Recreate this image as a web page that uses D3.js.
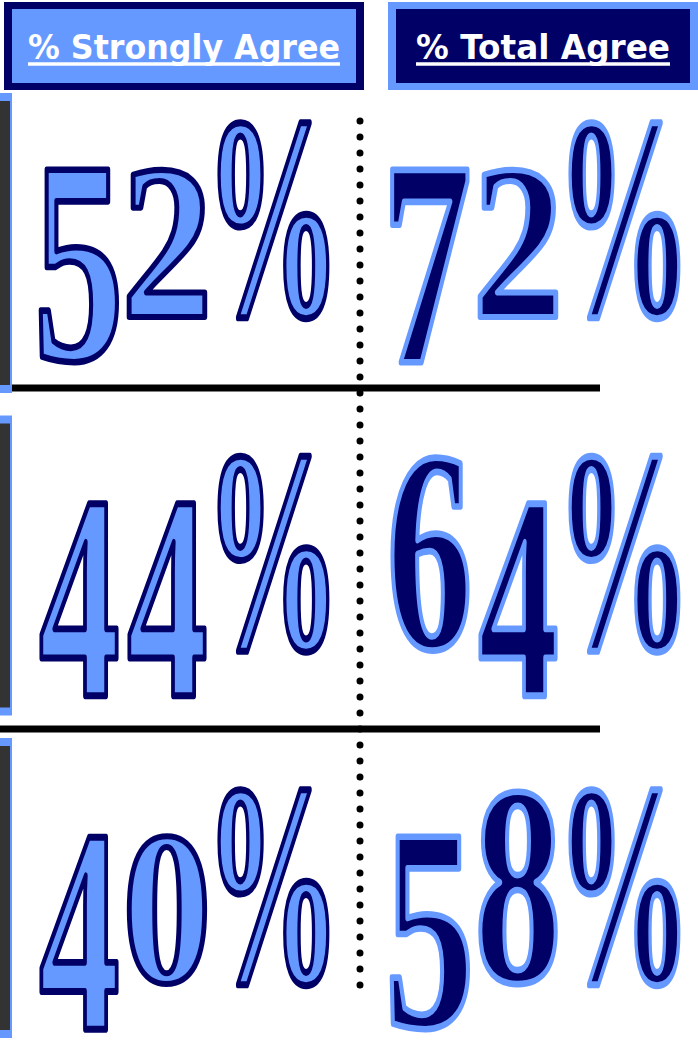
<!DOCTYPE html>
<html>
<head>
<meta charset="utf-8">
<script src="https://cdn.jsdelivr.net/npm/d3@7"></script>
<style>
  html, body { margin: 0; padding: 0; background: #fff; overflow: hidden; }
  svg { display: block; }
</style>
</head>
<body>
<div id="chart"></div>
<script>
// Agreement figures, two measures per statement
const columns = ["% Strongly Agree", "% Total Agree"];
const rows = ["Statement 1", "Statement 2", "Statement 3"];
const stronglyAgree = [52, 44, 40];
const totalAgree = [72, 64, 58];

{
    const width = 698, height = 1045;
    const navy = "#000066", light = "#6699FF";

    const svg = d3.select("#chart")
        .append("svg")
        .attr("width", width)
        .attr("height", height);

    // header boxes
    const headX = d3.scaleBand()
        .domain(columns)
        .range([4, 748])
        .paddingInner(24 / 384);

    // number columns and rows
    const numX = d3.scaleBand().domain(columns).range([9, 711]);
    const numY = d3.scaleBand().domain(rows).range([47, 1070]);
    const baseY = d3.scalePoint().domain(rows).range([320, 987]);
    const labelY = d3.scaleBand().domain(rows).range([93, 1038]).paddingInner(22.5 / 322.5);

    const colStyle = {
        [columns[0]]: { fill: light, stroke: navy },
        [columns[1]]: { fill: navy, stroke: light }
    };

    // dotted divider
    svg.append("line")
        .attr("x1", numX(columns[1]))
        .attr("x2", numX(columns[1]))
        .attr("y1", numY(rows[0]) + 74)
        .attr("y2", numY(rows[rows.length - 1]) + 257)
        .attr("stroke", "#000")
        .attr("stroke-width", 7)
        .attr("stroke-linecap", "round")
        .attr("stroke-dasharray", "0 16");

    // row separators
    svg.append("g")
        .selectAll("line")
        .data(rows.slice(0, -1))
        .join("line")
        .attr("x1", 0)
        .attr("x2", 600)
        .attr("y1", d => numY(d) + numY.step())
        .attr("y2", d => numY(d) + numY.step())
        .attr("stroke", "#000")
        .attr("stroke-width", 7);

    // headers
    const head = svg.append("g")
        .selectAll("g")
        .data(columns)
        .join("g");

    const boxW = d => Math.min(headX.bandwidth(), width - headX(d));
    const bw = 8;

    head.append("rect")
        .attr("x", d => headX(d))
        .attr("y", 2)
        .attr("width", boxW)
        .attr("height", 88)
        .attr("fill", d => colStyle[d].stroke);

    head.append("rect")
        .attr("x", d => headX(d) + bw)
        .attr("y", 2 + 7)
        .attr("width", d => boxW(d) - 2 * bw)
        .attr("height", 88 - 14)
        .attr("fill", d => colStyle[d].fill);

    // header text is squeezed a little to get the narrow look
    const headLen = t => Math.round(t.length * 19.5);

    head.append("text")
        .attr("x", d => headX(d) + boxW(d) / 2)
        .attr("y", 59)
        .attr("text-anchor", "middle")
        .attr("font-family", "'DejaVu Sans', sans-serif")
        .attr("font-weight", "bold")
        .attr("font-size", 34)
        .attr("fill", "#fff")
        .attr("textLength", d => headLen(d))
        .attr("lengthAdjust", "spacingAndGlyphs")
        .text(d => d);

    head.append("line")
        .attr("x1", d => headX(d) + boxW(d) / 2 - headLen(d) / 2)
        .attr("x2", d => headX(d) + boxW(d) / 2 + headLen(d) / 2)
        .attr("y1", 64)
        .attr("y2", 64)
        .attr("stroke", "#fff")
        .attr("stroke-width", 3.5);

    // big numbers, drawn glyph by glyph with old-style figure proportions
    const ctx = document.createElement("canvas").getContext("2d");
    const fontSize = 200;
    const fontFamily = "'Liberation Serif', 'Times New Roman', serif";
    ctx.font = `bold ${fontSize}px ${fontFamily}`;

    const digitW = 82, pctW = 115, gapDigit = 6, gapPct = 8;
    const smallH = 153, tallH = 198, descent = 45, pctH = 202;

    function glyphBox(ch) {
        if (ch === "%") return { w: pctW, top: -pctH + 2, bottom: 2 };
        if ("012".includes(ch)) return { w: digitW, top: -smallH, bottom: 0 };
        if ("68".includes(ch)) return { w: digitW, top: -tallH, bottom: 0 };
        return { w: digitW, top: -smallH, bottom: descent };
    }

    const cells = [];
    rows.forEach((r, i) => {
        cells.push({ col: columns[0], row: r, value: stronglyAgree[i] });
        cells.push({ col: columns[1], row: r, value: totalAgree[i] });
    });

    const sw = 5.5;
    cells.forEach(cell => {
        const chars = (cell.value + "%").split("");
        const boxes = chars.map(glyphBox);
        const gapAfter = k => k < chars.length - 1 ? (chars[k + 1] === "%" ? gapPct : gapDigit) : 0;
        const total = d3.sum(boxes, (b, k) => b.w + gapAfter(k));
        const cx = numX(cell.col) + numX.bandwidth() / 2;
        const base = baseY(cell.row);
        const st = colStyle[cell.col];

        let x0 = cx - total / 2;
        chars.forEach((ch, k) => {
            const b = boxes[k];
            const m = ctx.measureText(ch);
            const inkW = m.actualBoundingBoxLeft + m.actualBoundingBoxRight;
            const inkH = m.actualBoundingBoxAscent + m.actualBoundingBoxDescent;
            const sx = (b.w - sw) / inkW;
            const sy = (b.bottom - b.top - sw) / inkH;
            const tx = x0 + sw / 2 + m.actualBoundingBoxLeft * sx;
            const ty = base + b.top + sw / 2 + m.actualBoundingBoxAscent * sy;

            svg.append("text")
                .attr("transform", `translate(${tx},${ty}) scale(${sx},${sy})`)
                .attr("font-family", fontFamily)
                .attr("font-weight", "bold")
                .attr("font-size", fontSize)
                .attr("fill", st.fill)
                .attr("stroke", st.stroke)
                .attr("stroke-width", sw)
                .attr("stroke-linejoin", "round")
                .attr("vector-effect", "non-scaling-stroke")
                .text(ch);

            x0 += b.w + gapAfter(k);
        });
    });

    // row label boxes, clipped at the left edge
    const lab = svg.append("g")
        .selectAll("g")
        .data(rows)
        .join("g");

    lab.append("rect")
        .attr("x", -20)
        .attr("y", d => labelY(d))
        .attr("width", 32)
        .attr("height", labelY.bandwidth())
        .attr("fill", light);

    lab.append("rect")
        .attr("x", -20)
        .attr("y", d => labelY(d) + 8)
        .attr("width", 30)
        .attr("height", labelY.bandwidth() - 16)
        .attr("fill", "#333333");
}
</script>
</body>
</html>
